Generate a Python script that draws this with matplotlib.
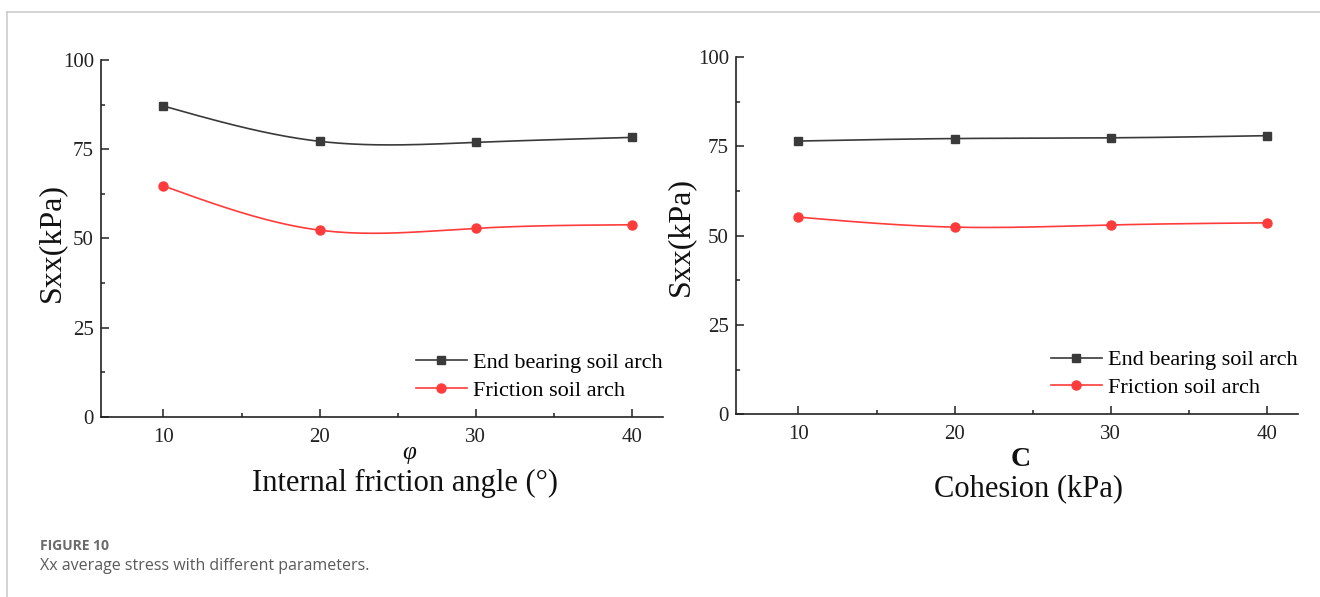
#! /usr/bin/env python3
# coding: utf-8

import numpy as np
import matplotlib
matplotlib.use("Agg")
import matplotlib.pyplot as plt
from matplotlib.lines import Line2D
from matplotlib.ticker import MultipleLocator

# data
phi = [10, 20, 30, 40]
phi_end_bearing = [87.1, 77.2, 76.9, 78.3]
phi_friction = [64.7, 52.3, 52.8, 53.8]

cohesion = [10, 20, 30, 40]
c_end_bearing = [76.5, 77.2, 77.4, 78.0]
c_friction = [55.2, 52.4, 53.0, 53.6]

series_labels = ["End bearing soil arch", "Friction soil arch"]

SERIF = "Liberation Serif"
BLACK = "#3a3a3a"
RED = "#ff3b3b"


def natural_spline(x, y, n=200):
    # smooth connecting line through the points (like Origin's spline)
    x = np.asarray(x, float)
    y = np.asarray(y, float)
    k = len(x)
    h = np.diff(x)
    A = np.zeros((k, k))
    b = np.zeros(k)
    A[0, 0] = A[-1, -1] = 1
    for i in range(1, k - 1):
        A[i, i - 1] = h[i - 1]
        A[i, i] = 2 * (h[i - 1] + h[i])
        A[i, i + 1] = h[i]
        b[i] = 6 * ((y[i + 1] - y[i]) / h[i] - (y[i] - y[i - 1]) / h[i - 1])
    m = np.linalg.solve(A, b)
    xs = np.linspace(x[0], x[-1], n)
    idx = np.clip(np.searchsorted(x, xs) - 1, 0, k - 2)
    x0, x1 = x[idx], x[idx + 1]
    hh = x1 - x0
    t0, t1 = x1 - xs, xs - x0
    ys = (m[idx] * t0 ** 3 + m[idx + 1] * t1 ** 3) / (6 * hh) \
        + (y[idx] / hh - m[idx] * hh / 6) * t0 \
        + (y[idx + 1] / hh - m[idx + 1] * hh / 6) * t1
    return xs, ys


def draw_panel(ax, x, end_bearing, friction):
    for vals, color, marker, ms in [(end_bearing, BLACK, "s", 5.5),
                                    (friction, RED, "o", 6.5)]:
        xs, ys = natural_spline(x, vals)
        ax.plot(xs, ys, color=color, lw=1.2)
        ax.plot(x, vals, ls="none", marker=marker, ms=ms, color=color)

    ax.set_xlim(6, 42)
    ax.set_ylim(0, 100)
    ax.xaxis.set_major_locator(MultipleLocator(10))
    ax.xaxis.set_minor_locator(MultipleLocator(5))
    ax.yaxis.set_major_locator(MultipleLocator(25))
    ax.yaxis.set_minor_locator(MultipleLocator(12.5))
    ax.spines["top"].set_visible(False)
    ax.spines["right"].set_visible(False)
    for s in ["left", "bottom"]:
        ax.spines[s].set_linewidth(1.2)
        ax.spines[s].set_color("#222222")
    ax.tick_params(which="both", direction="in", width=1.1, colors="#222222")
    ax.tick_params(which="major", length=5.5)
    ax.tick_params(which="minor", length=3)
    ax.tick_params(axis="x", which="major", pad=8, labelsize=15)
    ax.tick_params(axis="y", which="major", pad=5, labelsize=15)
    for lab in ax.get_xticklabels() + ax.get_yticklabels():
        lab.set_fontfamily(SERIF)
        lab.set_color("#222222")

    handles = [
        Line2D([], [], color=BLACK, lw=1.2, marker="s", ms=5.5),
        Line2D([], [], color=RED, lw=1.2, marker="o", ms=6.5),
    ]
    ax.legend(handles, series_labels, loc="lower right",
              bbox_to_anchor=(1.0, 0.045), frameon=False,
              borderpad=0, borderaxespad=0, handlelength=2.3,
              handletextpad=0.3, labelspacing=0.33,
              prop={"family": SERIF, "size": 16})


W, H = 1320, 597
fig = plt.figure(figsize=(W / 100, H / 100), dpi=100)

ax1 = fig.add_axes([101 / W, 1 - 416.7 / H, 562 / W, 356.7 / H])
ax2 = fig.add_axes([736 / W, 1 - 414.3 / H, 562 / W, 357.2 / H])

draw_panel(ax1, phi, phi_end_bearing, phi_friction)
draw_panel(ax2, cohesion, c_end_bearing, c_friction)

# axis titles
fig.text(52 / W, 1 - 243 / H, "Sxx(kPa)", rotation=90, ha="center",
         va="center", family=SERIF, size=23, color="#111111")
fig.text(681 / W, 1 - 236 / H, "Sxx(kPa)", rotation=90, ha="center",
         va="center", family=SERIF, size=23, color="#111111")
fig.text(409 / W, 1 - 453 / H, "φ", ha="center", va="center",
         family=SERIF, style="italic", size=18, color="#111111")
fig.text(405 / W, 1 - 483 / H, "Internal friction angle (°)", ha="center",
         va="center", family=SERIF, size=22, color="#111111")
fig.text(1021 / W, 1 - 459 / H, "C", ha="center", va="center",
         family=SERIF, weight="bold", size=20, color="#111111")
fig.text(1028 / W, 1 - 489 / H, "Cohesion (kPa)", ha="center",
         va="center", family=SERIF, size=22, color="#111111")

# caption
fig.text(40 / W, 1 - 546 / H, "FIGURE 10", ha="left", va="center",
         family="Open Sans", weight="bold", size=10, color="#6b6b6b")
fig.text(40 / W, 1 - 566 / H, "Xx average stress with different parameters.",
         ha="left", va="center", family="Open Sans", size=11.5,
         color="#5a5a5a")

# card border (top and left edges)
fig.add_artist(Line2D([7 / W, 1], [1 - 12 / H, 1 - 12 / H],
                      transform=fig.transFigure, color="#cccccc", lw=1.2))
fig.add_artist(Line2D([7 / W, 7 / W], [0, 1 - 12 / H],
                      transform=fig.transFigure, color="#cccccc", lw=1.2))

fig.savefig("out.png", dpi=100)
